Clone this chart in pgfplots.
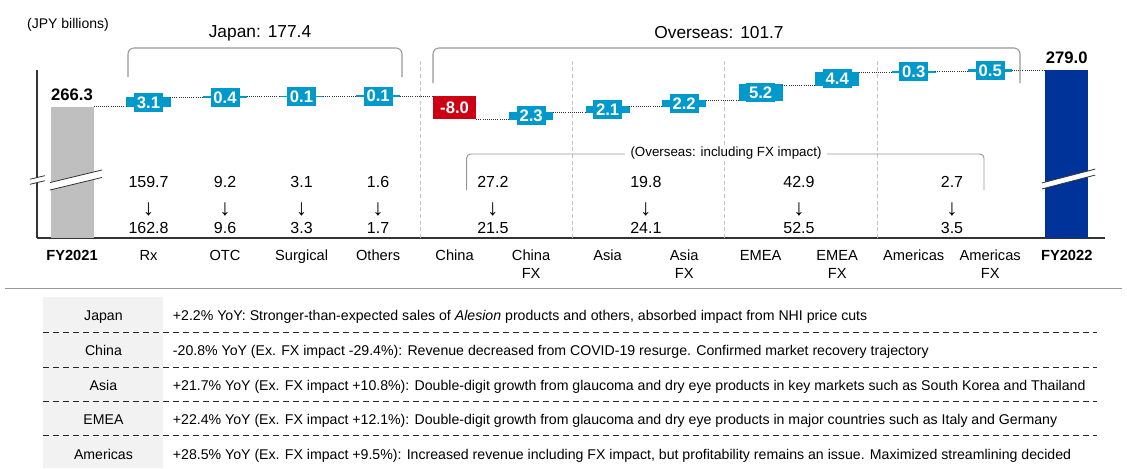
\documentclass[border=0pt]{standalone}
\usepackage{pgfplots}
\pgfplotsset{compat=1.18}
\usepackage{fontspec}
\setmainfont{Liberation Sans}
\definecolor{cyanC}{RGB}{0,153,204}
\definecolor{redC}{RGB}{204,0,18}
\definecolor{navyC}{RGB}{0,51,153}
\definecolor{grayC}{RGB}{191,191,191}
\definecolor{braceC}{RGB}{150,150,150}
\definecolor{sepC}{RGB}{195,195,195}
\definecolor{tabC}{RGB}{242,242,242}
\newcommand{\fsz}[1]{\fontsize{#1}{#1}\selectfont}
\pgfplotsset{wf/.style={
  scale only axis, width=801pt, height=126pt,
  xmin=-0.4575, xmax=13.5, ymin=221.07, ymax=279,
  at={(27.75pt,-178.5pt)}, anchor=south west,
}}
\begin{document}
\begin{tikzpicture}
\useasboundingbox (0,0) rectangle (845.25pt,-351pt);
% ---------------- bars ----------------
\begin{axis}[wf, ybar stacked, bar width=0.5618, clip mode=individual,
  axis x line*=bottom, axis y line*=left,
  axis line style={draw=black!80, line width=0.8pt},
  ytick=\empty, xtick={0,...,13}, major tick length=0pt,
  xticklabels={\textbf{FY2021},Rx,OTC,Surgical,Others,China,{China\\FX},Asia,{Asia\\FX},EMEA,{EMEA\\FX},Americas,{Americas\\FX},\textbf{FY2022}},
  xticklabel style={align=center, anchor=north, font=\fontsize{11}{13.3}\selectfont, inner sep=0pt, yshift=-9pt},
]
\addplot[draw=none, fill=none, forget plot] coordinates {(0,0) (1,266.3) (2,269.4) (3,269.8) (4,269.9) (5,262.0) (6,262.0) (7,264.3) (8,266.4) (9,268.6) (10,273.8) (11,278.2) (12,278.5) (13,0)};
\addplot[fill=cyanC, draw=cyanC, line width=0.9pt] coordinates {(0,0) (1,3.1) (2,0.4) (3,0.1) (4,0.1) (5,0) (6,2.3) (7,2.1) (8,2.2) (9,5.2) (10,4.4) (11,0.3) (12,0.5) (13,0)};
\addplot[fill=redC, draw=none] coordinates {(0,0) (1,0) (2,0) (3,0) (4,0) (5,8.0) (6,0) (7,0) (8,0) (9,0) (10,0) (11,0) (12,0) (13,0)};
\addplot[fill=grayC, draw=none] coordinates {(0,266.3) (1,0) (2,0) (3,0) (4,0) (5,0) (6,0) (7,0) (8,0) (9,0) (10,0) (11,0) (12,0) (13,0)};
\addplot[fill=navyC, draw=none] coordinates {(0,0) (1,0) (2,0) (3,0) (4,0) (5,0) (6,0) (7,0) (8,0) (9,0) (10,0) (11,0) (12,0) (13,279.0)};
\end{axis}
% ---------------- overlay ----------------
\begin{axis}[wf, hide axis, clip=false]
\addplot[sepC, dash pattern=on 3pt off 2pt, line width=0.6pt, unbounded coords=jump] coordinates {(4.547,221.07) (4.547,283.14) (4.547,nan) (6.537,221.07) (6.537,283.14) (6.537,nan) (8.53,221.07) (8.53,283.14) (8.53,nan) (10.53,221.07) (10.53,283.14)};
\addplot[black!80, densely dotted, line width=0.6pt, unbounded coords=jump] coordinates {
(0.281,266.3) (0.719,266.3) (0.719,nan)
(1.281,269.4) (1.719,269.4) (1.719,nan)
(2.281,269.8) (2.719,269.8) (2.719,nan)
(3.281,269.9) (3.719,269.9) (3.719,nan)
(4.281,270.0) (4.719,270.0) (4.719,nan)
(5.281,262.0) (5.719,262.0) (5.719,nan)
(6.281,264.3) (6.719,264.3) (6.719,nan)
(7.281,266.4) (7.719,266.4) (7.719,nan)
(8.281,268.6) (8.719,268.6) (8.719,nan)
(9.281,273.8) (9.719,273.8) (9.719,nan)
(10.281,278.2) (10.719,278.2) (10.719,nan)
(11.281,278.5) (11.719,278.5) (11.719,nan)
(12.281,279.0) (12.719,279.0)
};
% change labels
\addplot[draw=none, mark=none, nodes near coords, point meta=explicit symbolic,
 every node near coord/.append style={anchor=center, fill=cyanC, text=white, font=\fsz{12.5}\bfseries, inner sep=1pt, minimum width=21.75pt, minimum height=14.25pt}]
 table[meta=lab] {
x y lab
1 267.85 3.1
2 269.6 0.4
3 269.85 0.1
4 269.95 0.1
6 263.15 2.3
7 265.35 2.1
8 267.5 2.2
9 271.2 5.2
10 276.0 4.4
11 278.35 0.3
12 278.75 0.5
};
\addplot[draw=none, mark=none, nodes near coords, point meta=explicit symbolic,
 every node near coord/.append style={anchor=center, text=white, font=\fsz{12.5}\bfseries}]
 table[meta=lab] {
x y lab
5 266.0 -8.0
};
% totals
\addplot[draw=none, mark=none, nodes near coords, point meta=explicit symbolic,
 every node near coord/.append style={anchor=south, text=black, font=\fsz{12.5}\bfseries, inner sep=0pt, yshift=4.5pt}]
 table[meta=lab] {
x y lab
0 266.3 266.3
13 279.0 279.0
};
% segment values
\addplot[draw=none, mark=none, nodes near coords, point meta=explicit symbolic,
 every node near coord/.append style={anchor=center, text=black, font=\fsz{12}}]
 table[meta=lab] {
x y lab
1 240.38 159.7
2 240.38 9.2
3 240.38 3.1
4 240.38 1.6
5.5 240.38 27.2
7.5 240.38 19.8
9.5 240.38 42.9
11.5 240.38 2.7
};
\addplot[draw=none, mark=none, nodes near coords, point meta=explicit symbolic,
 every node near coord/.append style={anchor=center, text=black, font=\fsz{17}}]
 table[meta=lab] {
x y lab
1 231.07 ↓
2 231.07 ↓
3 231.07 ↓
4 231.07 ↓
5.5 231.07 ↓
7.5 231.07 ↓
9.5 231.07 ↓
11.5 231.07 ↓
};
\addplot[draw=none, mark=none, nodes near coords, point meta=explicit symbolic,
 every node near coord/.append style={anchor=center, text=black, font=\fsz{12}}]
 table[meta=lab] {
x y lab
1 224.52 162.8
2 224.52 9.6
3 224.52 3.3
4 224.52 1.7
5.5 224.52 21.5
7.5 224.52 24.1
9.5 224.52 52.5
11.5 224.52 3.5
};
\end{axis}
% ---------------- braces and titles ----------------
\draw[braceC, line width=0.8pt, rounded corners=4.5pt] (96pt,-57.75pt) -- (96pt,-36pt) -- (301.5pt,-36pt) -- (301.5pt,-57.75pt);
\draw[braceC, line width=0.8pt, rounded corners=4.5pt] (324.75pt,-62.25pt) -- (324.75pt,-36pt) -- (765pt,-36pt) -- (765pt,-62.25pt);
\node[font=\fsz{13}] at (195pt,-24.75pt) {Japan:\hspace{0.4em}177.4};
\node[font=\fsz{13}] at (539.25pt,-24.75pt) {Overseas:\hspace{0.4em}101.7};
\node[font=\fsz{10.5}] at (51pt,-18.75pt) {(JPY billions)};
\draw[braceC, line width=0.7pt, rounded corners=3pt] (350pt,-142.5pt) -- (350pt,-115.5pt) -- (738pt,-115.5pt) -- (738pt,-142.5pt);
\node[fill=white, font=\fsz{10}, inner xsep=4pt, inner ysep=1pt] at (544.5pt,-114.75pt) {(Overseas: including FX impact)};
% ---------------- axis breaks ----------------
\begin{scope}[shift={(28pt,-135pt)}]
\fill[white] (-5.6pt,-3.25pt) -- (5.6pt,-0.55pt) -- (5.6pt,3.25pt) -- (-5.6pt,0.55pt) -- cycle;
\draw[black!80, line width=0.6pt] (-5.6pt,0.55pt) -- (5.6pt,3.25pt) (-5.6pt,-3.25pt) -- (5.6pt,-0.55pt);
\end{scope}
\begin{scope}[shift={(57pt,-135pt)}]
\fill[white] (-19.5pt,-7.5pt) -- (19.5pt,1.9pt) -- (19.5pt,7.5pt) -- (-19.5pt,-1.9pt) -- cycle;
\draw[black!80, line width=0.6pt] (-19.5pt,-1.9pt) -- (19.5pt,7.5pt) (-19.5pt,-7.5pt) -- (19.5pt,1.9pt);
\end{scope}
\begin{scope}[shift={(801.4pt,-134.25pt)}]
\fill[white] (-20pt,-7.45pt) -- (20pt,2.95pt) -- (20pt,7.45pt) -- (-20pt,-2.95pt) -- cycle;
\draw[black!80, line width=0.6pt] (-20pt,-2.95pt) -- (20pt,7.45pt) (-20pt,-7.45pt) -- (20pt,2.95pt);
\end{scope}
% ---------------- table ----------------
\draw[black!40, line width=0.8pt] (3.75pt,-216.2pt) -- (841.5pt,-216.2pt);
\fill[tabC] (32.5pt,-222.5pt) rectangle (122.5pt,-350.8pt);
\foreach \yy in {-249.2,-275.5,-301.3,-326.8} \draw[black!85, line width=0.7pt, dash pattern=on 4.5pt off 3pt] (32.5pt,\yy pt) -- (822.75pt,\yy pt);
\begin{scope}[every node/.style={inner sep=0pt, font=\fsz{10.6}}]
\node[anchor=base] at (77.6pt,-240pt) {Japan};
\node[anchor=base] at (77.6pt,-266.26pt) {China};
\node[anchor=base] at (77.6pt,-292.5pt) {Asia};
\node[anchor=base] at (77.6pt,-318.4pt) {EMEA};
\node[anchor=base] at (77.6pt,-344.3pt) {Americas};
\node[anchor=base west] at (129.5pt,-240pt) {+2.2\% YoY: Stronger-than-expected sales of \textit{Alesion} products and others, absorbed impact from NHI price cuts};
\node[anchor=base west] at (129.5pt,-266.26pt) {-20.8\% YoY (Ex. FX impact -29.4\%): Revenue decreased from COVID-19 resurge. Confirmed market recovery trajectory};
\node[anchor=base west] at (129.5pt,-292.5pt) {+21.7\% YoY (Ex. FX impact +10.8\%): Double-digit growth from glaucoma and dry eye products in key markets such as South Korea and Thailand};
\node[anchor=base west] at (129.5pt,-318.4pt) {+22.4\% YoY (Ex. FX impact +12.1\%): Double-digit growth from glaucoma and dry eye products in major countries such as Italy and Germany};
\node[anchor=base west] at (129.5pt,-344.3pt) {+28.5\% YoY (Ex. FX impact +9.5\%): Increased revenue including FX impact, but profitability remains an issue. Maximized streamlining decided};
\end{scope}
\end{tikzpicture}
\end{document}
